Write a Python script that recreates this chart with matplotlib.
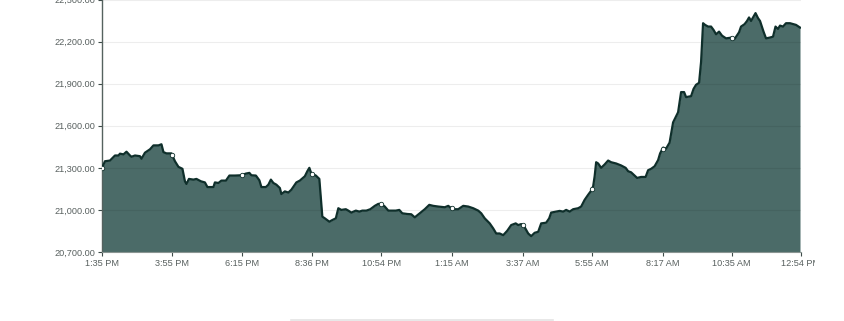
import matplotlib

matplotlib.use("Agg")
import matplotlib.pyplot as plt
import numpy as np
from matplotlib.transforms import Bbox, IdentityTransform, TransformedBbox

LINE = "#0f2f2b"
FILL = "#4b6b68"
TEXT = "#58605f"

# minutes since 1:35 PM, and price
minutes = [
    0, 6, 16, 26, 33, 36, 43, 49, 56, 59, 66, 76, 79, 86, 96, 103, 113, 119, 123, 129,
    139, 146, 153, 161, 166, 169, 174, 183, 189, 198, 206, 211, 223, 226, 233, 239, 248,
    255, 266, 279, 288, 295, 299, 308, 315, 319, 328, 333, 338, 343, 349, 356, 359, 366,
    373, 379, 389, 396, 406, 411, 415, 419, 428, 435, 441, 446, 455, 461, 468, 473, 479,
    488, 493, 499, 508, 515, 521, 529, 537, 546, 553, 559, 566, 573, 579, 588, 595, 601,
    611, 619, 626, 636, 646, 655, 663, 673, 686, 693, 699, 706, 713, 723, 733, 743, 753,
    759, 766, 776, 783, 789, 796, 803, 811, 819, 828, 833, 839, 846, 853, 859, 866, 873,
    879, 889, 895, 899, 909, 916, 923, 929, 936, 943, 953, 959, 966, 973, 978, 983, 986,
    989, 993, 999, 1006, 1013, 1019, 1029, 1039, 1048, 1053, 1059, 1066, 1071, 1079, 1088,
    1093, 1099, 1106, 1113, 1117, 1123, 1129, 1136, 1143, 1148, 1153, 1159, 1165, 1169,
    1179, 1184, 1189, 1195, 1199, 1203, 1207, 1213, 1219, 1224, 1229, 1235, 1241, 1249,
    1259, 1266, 1275, 1279, 1286, 1291, 1295, 1299, 1304, 1308, 1313, 1317, 1324, 1329,
    1336, 1343, 1348, 1353, 1357, 1363, 1369, 1377, 1384, 1389, 1397,
]
price = [
    21300, 21347, 21352, 21388, 21388, 21401, 21396, 21415, 21388, 21379, 21388, 21383,
    21365, 21408, 21432, 21460, 21460, 21468, 21412, 21403, 21403, 21347, 21307, 21293,
    21204, 21185, 21221, 21216, 21221, 21204, 21196, 21163, 21163, 21196, 21192, 21209,
    21209, 21245, 21245, 21247, 21259, 21264, 21247, 21245, 21211, 21163, 21163, 21180,
    21216, 21192, 21180, 21156, 21113, 21132, 21124, 21144, 21196, 21209, 21240, 21276,
    21300, 21259, 21245, 21221, 20952, 20940, 20916, 20928, 20940, 21012, 21000, 21005,
    20995, 20981, 20995, 20988, 20995, 20995, 21005, 21029, 21043, 21043, 21024, 20995,
    20995, 20995, 21000, 20976, 20971, 20969, 20947, 20976, 21005, 21036, 21029, 21024,
    21019, 21029, 21012, 21005, 21005, 21029, 21024, 21012, 20995, 20976, 20940, 20904,
    20868, 20832, 20832, 20820, 20851, 20892, 20904, 20892, 20899, 20876, 20832, 20813,
    20837, 20844, 20904, 20909, 20940, 20981, 20988, 20993, 20988, 21000, 20988, 21005,
    21012, 21024, 21072, 21108, 21132, 21168, 21240, 21340, 21331, 21300, 21324, 21352,
    21340, 21331, 21317, 21300, 21276, 21268, 21245, 21228, 21235, 21235, 21283, 21293,
    21311, 21355, 21403, 21444, 21437, 21480, 21624, 21660, 21696, 21840, 21840, 21804,
    21811, 21863, 21892, 21906, 22055, 22331, 22319, 22307, 22307, 22283, 22252, 22271,
    22242, 22223, 22228, 22218, 22266, 22307, 22324, 22347, 22372, 22347, 22379, 22403,
    22367, 22347, 22271, 22223, 22228, 22235, 22307, 22290, 22314, 22307, 22331, 22331,
    22324, 22319, 22300,
]

tick_minutes = [0, 140, 280, 421, 559, 700, 842, 980, 1122, 1260, 1399]
tick_labels = ["1:35 PM", "3:55 PM", "6:15 PM", "8:36 PM", "10:54 PM", "1:15 AM",
               "3:37 AM", "5:55 AM", "8:17 AM", "10:35 AM", "12:54 PM"]
y_ticks = [20700, 21000, 21300, 21600, 21900, 22200, 22500]

plt.rcParams["font.family"] = ["Liberation Sans", "DejaVu Sans"]

fig = plt.figure(figsize=(8.45, 3.21), dpi=100)
# top of the plot area sits right at the upper edge, so its top label is cut
ax = fig.add_axes([102 / 845, 1 - 252 / 321, 699 / 845, 252.5 / 321])

ax.fill_between(minutes, price, 20700, color=FILL, linewidth=0, zorder=2)
ax.plot(minutes, price, color=LINE, linewidth=1.6, zorder=3)

# hollow markers on the line at each labelled time
marker_minutes = tick_minutes[:-1]
marker_price = np.interp(marker_minutes, minutes, price)
ax.plot(marker_minutes, marker_price, linestyle="none", marker="o", markersize=3.2,
        markerfacecolor="white", markeredgecolor=LINE, markeredgewidth=0.6, zorder=4)

ax.set_xlim(0, 1399)
ax.set_ylim(20700, 22500)
ax.set_xticks(tick_minutes)
ax.set_xticklabels(tick_labels)
ax.set_yticks(y_ticks)
ax.set_yticklabels([f"{v:,.2f}" for v in y_ticks])
ax.tick_params(axis="both", labelsize=6.6, length=3, width=0.8, pad=2,
               colors="#3c4a48", labelcolor=TEXT)

# grid shows faintly over the filled area too
for v in y_ticks[1:]:
    ax.axhline(v, color="black", alpha=0.07, linewidth=0.8, zorder=2.5)
for side in ("top", "right"):
    ax.spines[side].set_visible(False)
ax.spines["left"].set_color("#55625f")
ax.spines["left"].set_linewidth(1.0)
ax.spines["bottom"].set_color("#8a9592")
ax.spines["bottom"].set_linewidth(0.8)

# the last label is cut off by the chart container
clip = TransformedBbox(Bbox([[0, 0], [815, 321]]), IdentityTransform())
last = ax.get_xticklabels()[-1]
last.set_clip_on(True)
last.set_clip_box(clip)

# faint panel edge below the chart
fig.add_artist(plt.Line2D([291 / 845, 553 / 845], [1.5 / 321, 1.5 / 321],
                          color="#e4e4e4", linewidth=1.2))

fig.savefig("out.png", dpi=100)
